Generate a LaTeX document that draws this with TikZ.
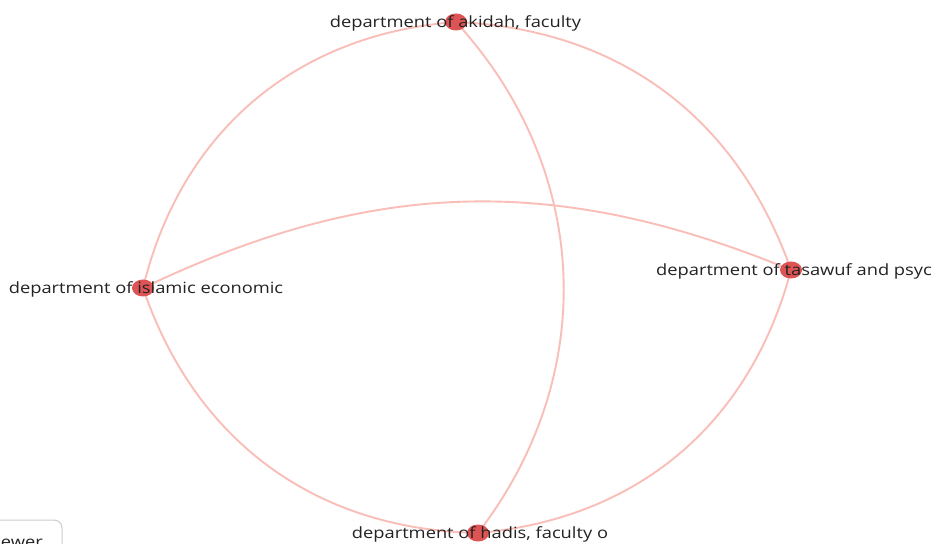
\documentclass[tikz,border=0pt]{standalone}
\usepackage{fontspec}
\setmainfont{Open Sans}
\usetikzlibrary{shapes.geometric}
\definecolor{edgec}{RGB}{250,190,184}
\definecolor{nodec}{RGB}{222,84,84}
\definecolor{txtc}{RGB}{35,35,35}
\newcommand{\wide}[1]{\scalebox{1.18}[1]{#1}}
\tikzset{
  vnode/.style={ellipse, fill=nodec, minimum width=22pt, minimum height=17pt, inner sep=0pt},
  vlabel/.style={text=txtc, font=\fontsize{15.5}{17}\selectfont, inner sep=0pt, anchor=center},
  vedge/.style={draw=edgec, line width=1.9pt},
}
\begin{document}
\begin{tikzpicture}[x=1pt,y=1pt]
\useasboundingbox (0,0) rectangle (933,543);
\clip (0,0) rectangle (933,543);
\fill[white] (0,0) rectangle (933,543);
\coordinate (akidah) at (456,521);
\coordinate (islamic) at (143,255);
\coordinate (tasawuf) at (791,273);
\coordinate (hadis) at (478,10);
\draw[vedge] (akidah) to[bend right=36] (islamic);
\draw[vedge] (akidah) to[bend left=34] (tasawuf);
\draw[vedge] (akidah) to[bend left=40] (hadis);
\draw[vedge] (islamic) to[bend left=24] (tasawuf);
\draw[vedge] (islamic) to[bend right=35] (hadis);
\draw[vedge] (tasawuf) to[bend left=35] (hadis);
\node[vnode] (nakidah) at (akidah) {};
\node[vnode] (nislamic) at (islamic) {};
\node[vnode] (ntasawuf) at (tasawuf) {};
\node[vnode] (nhadis) at (hadis) {};
\node[vlabel] (lakidah) at (455.5,520) {\wide{department of akidah, faculty}};
\node[vlabel] (lislamic) at (146,254) {\wide{department of islamic economic}};
\node[vlabel, anchor=west] (ltasawuf) at (656,272) {\wide{department of tasawuf and psyc}};
\node[vlabel] (lhadis) at (480,9) {\wide{department of hadis, faculty o}};
\draw[draw=black!20, line width=1pt, rounded corners=8pt, fill=white] (-40,-30) rectangle (62,23);
\node[vlabel, anchor=base east] (vos) at (43,-4.5) {\wide{VOSviewer}};
\end{tikzpicture}
\end{document}
